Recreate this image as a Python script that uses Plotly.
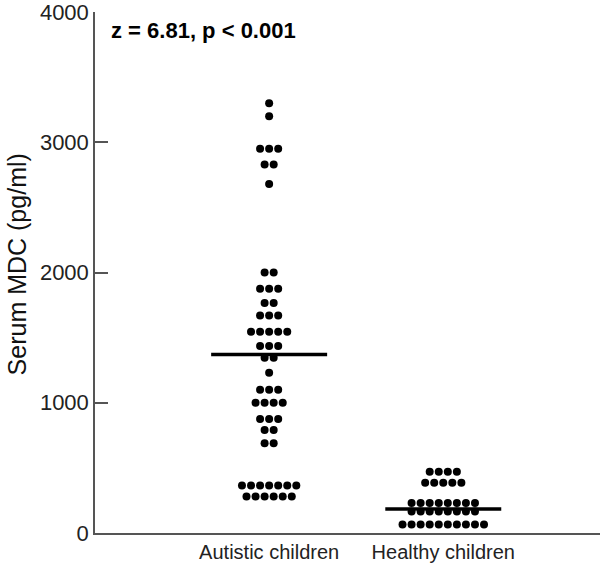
import plotly.graph_objects as go
from collections import Counter

# values (pg/ml), one entry per child
autistic = ([3300] + [3200] + [2950] * 3 + [2830] * 2 + [2680] +
            [2000] * 2 + [1875] * 3 + [1765] * 2 + [1670] * 3 + [1545] * 5 +
            [1435] * 3 + [1345] * 2 + [1230] + [1100] * 3 + [1000] * 4 +
            [875] * 3 + [790] * 2 + [690] * 2 + [365] * 7 + [280] * 6)
healthy = [470] * 4 + [385] * 5 + [230] * 8 + [165] * 8 + [65] * 10

groups = ["Autistic children", "Healthy children"]
medians = [1370, 185]
annotation_text = "z = 6.81, p < 0.001"

FONT = "Arial, Liberation Sans, sans-serif"
SPACING = 0.052   # horizontal gap between dots in a row (x units)
HALF = 0.333      # half-width of median bar


def swarm(values, centre):
    """spread equal values side by side around the group centre"""
    xs, ys = [], []
    for v, n in Counter(values).items():
        for i in range(n):
            xs.append(centre + (i - (n - 1) / 2) * SPACING)
            ys.append(v)
    return xs, ys


fig = go.Figure()

for pos, vals in zip([1, 2], [autistic, healthy]):
    xs, ys = swarm(vals, pos)
    fig.add_trace(go.Scatter(
        x=xs, y=ys, mode="markers",
        marker=dict(color="black", size=8),
        showlegend=False, hoverinfo="y"
    ))

for pos, med in zip([1, 2], medians):
    fig.add_trace(go.Scatter(
        x=[pos - HALF, pos + HALF], y=[med, med], mode="lines",
        line=dict(color="black", width=3.5),
        showlegend=False, hoverinfo="skip"
    ))

fig.add_annotation(
    x=0.028, y=0.993, xref="paper", yref="paper",
    xanchor="left", yanchor="top", showarrow=False,
    text="<b>%s</b>" % annotation_text,
    font=dict(family=FONT, size=22, color="black")
)

fig.add_annotation(
    x=-0.155, y=0.515, xref="paper", yref="paper",
    xanchor="center", yanchor="middle",
    textangle=-90, showarrow=False,
    text="Serum MDC (pg/ml)",
    font=dict(family=FONT, size=25, color="#111111")
)

fig.update_layout(
    width=600, height=565,
    margin=dict(l=95, r=0, t=9, b=32),
    plot_bgcolor="white", paper_bgcolor="white",
    xaxis=dict(
        range=[0, 2.9], tickvals=[1, 2], ticktext=groups,
        showline=True, linecolor="#555555", linewidth=1.5,
        showgrid=False, zeroline=False, ticks="",
        tickfont=dict(family=FONT, size=20, color="#222222"),
    ),
    yaxis=dict(
        range=[0, 4000], tickvals=[0, 1000, 2000, 3000, 4000],
        showline=True, linecolor="#555555", linewidth=1.5,
        showgrid=False, zeroline=False,
        ticks="inside", ticklen=13, tickcolor="#555555", tickwidth=1.5,
        ticklabeloverflow="allow",
        tickfont=dict(family=FONT, size=22, color="#222222"),
    ),
)

# drop the browser's default page margin so the figure sits at the corner
fig.write_html("out.html", config={"displayModeBar": False},
               post_script="document.body.style.margin='0';")
